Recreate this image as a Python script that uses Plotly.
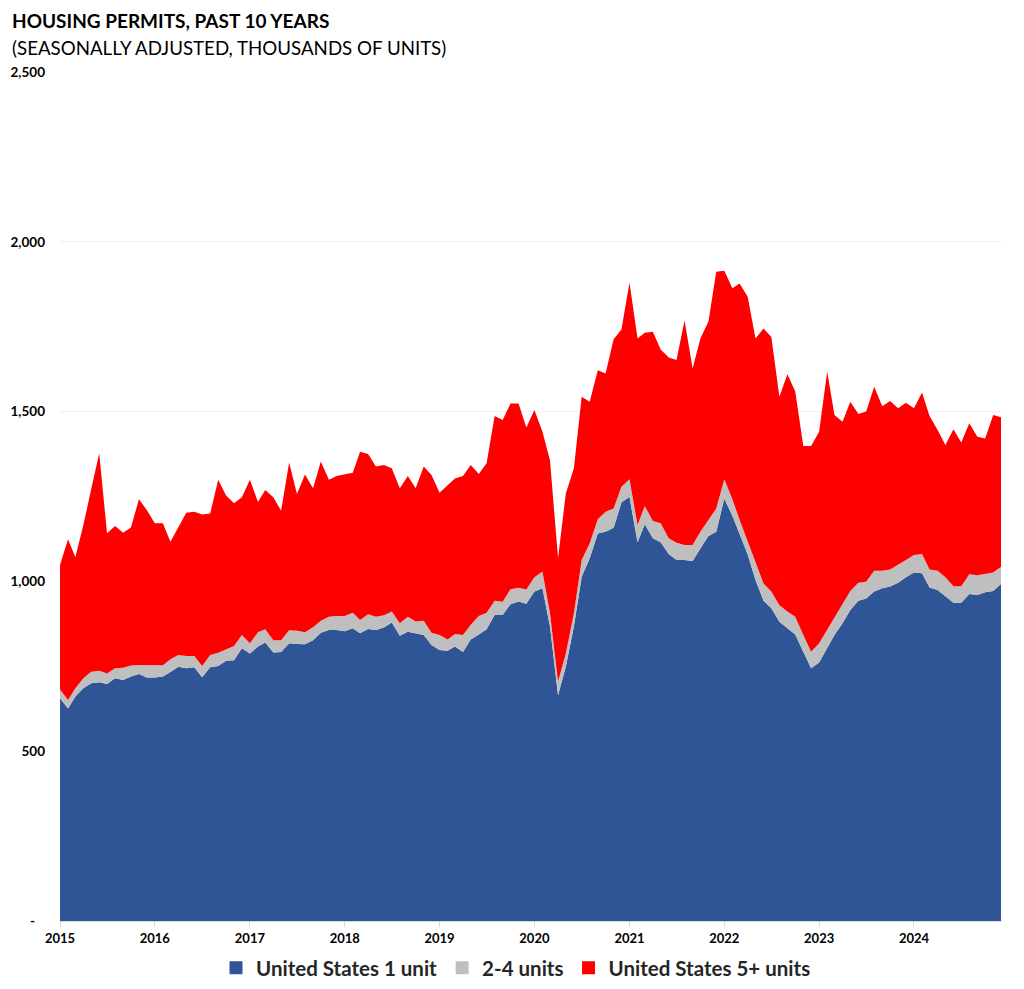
import plotly.graph_objects as go
import pandas as pd

# monthly permits, seasonally adjusted, thousands of units (Jan 2015 - Dec 2024)
months = pd.date_range("2015-01-01", "2024-12-01", freq="MS")

one_unit = [
    656, 626, 661, 685, 700, 703, 698, 715, 710, 720, 727, 717,
    717, 720, 733, 749, 744, 747, 718, 747, 751, 766, 768, 803,
    788, 808, 820, 791, 792, 818, 816, 815, 827, 849, 857, 857,
    853, 862, 847, 860, 857, 864, 879, 840, 852, 847, 842, 813,
    798, 796, 808, 792, 829, 844, 859, 901, 901, 933, 941, 934,
    970, 980, 867, 665, 749, 867, 1014, 1068, 1141, 1146, 1158, 1232,
    1249, 1115, 1168, 1127, 1115, 1081, 1063, 1063, 1060, 1097, 1134, 1146,
    1244, 1193, 1137, 1079, 1004, 943, 921, 881, 862, 844, 793, 744,
    761, 803, 842, 877, 916, 943, 950, 970, 980, 985, 996, 1012,
    1026, 1024, 982, 975, 955, 937, 937, 963, 960, 968, 972, 992,
]
two_to_four = [
    26, 25, 24, 30, 34, 34, 31, 29, 36, 32, 27, 36,
    35, 33, 38, 34, 36, 33, 33, 36, 39, 34, 42, 39,
    30, 42, 39, 36, 35, 38, 39, 35, 38, 35, 39, 41,
    45, 46, 39, 43, 39, 36, 32, 37, 44, 35, 42, 36,
    44, 33, 37, 50, 43, 54, 49, 42, 39, 44, 40, 42,
    42, 49, 39, 40, 39, 39, 49, 44, 42, 59, 57, 47,
    52, 51, 54, 51, 56, 46, 51, 44, 47, 49, 49, 69,
    57, 49, 44, 38, 49, 51, 49, 49, 49, 52, 49, 49,
    57, 54, 54, 58, 56, 53, 49, 61, 51, 50, 52, 51,
    52, 57, 53, 56, 57, 49, 49, 58, 58, 54, 54, 51,
]
five_plus = [
    366, 473, 386, 451, 537, 640, 413, 419, 397, 407, 488, 457,
    419, 418, 346, 378, 422, 425, 446, 417, 509, 453, 420, 406,
    481, 384, 410, 421, 381, 494, 402, 465, 409, 469, 403, 412,
    417, 412, 496, 472, 442, 443, 422, 397, 414, 392, 454, 464,
    419, 455, 458, 468, 471, 418, 440, 544, 535, 547, 543, 477,
    493, 412, 451, 363, 471, 427, 481, 417, 439, 407, 498, 463,
    579, 549, 510, 557, 512, 532, 538, 661, 520, 569, 582, 697,
    614, 621, 696, 721, 662, 751, 750, 614, 699, 663, 557, 606,
    623, 761, 594, 535, 557, 497, 501, 542, 485, 496, 462, 463,
    432, 475, 452, 415, 390, 462, 423, 445, 408, 399, 464, 440,
]

series_names = ["United States 1 unit", "2-4 units", "United States 5+ units"]
series_colors = ["#2F5597", "#BFBFBF", "#FF0000"]

year_ticks = pd.date_range("2015-01-01", "2024-01-01", freq="YS")
year_labels = [str(d.year) for d in year_ticks]
y_ticks = [0, 500, 1000, 1500, 2000, 2500]
y_labels = ["-\u00a0\u00a0\u00a0", "500", "1,000", "1,500", "2,000", "2,500"]

FONT = "Lato"

fig = go.Figure()
for name, vals, col in zip(series_names, [one_unit, two_to_four, five_plus], series_colors):
    fig.add_trace(
        go.Scatter(
            x=months,
            y=vals,
            name=name,
            stackgroup="one",
            mode="lines",
            line=dict(width=0, color=col),
            fillcolor=col,
            showlegend=False,
            hoverinfo="x+y+name",
        )
    )

# legend entries drawn as square swatches, like the original
for name, col in zip(series_names, series_colors):
    fig.add_trace(
        go.Scatter(
            x=[None],
            y=[None],
            mode="markers",
            name="<b>" + name + "</b>",
            marker=dict(symbol="square", size=13, color=col),
            hoverinfo="skip",
        )
    )

# page body adds an 8px offset, so the figure is a bit smaller than the window
fig.update_layout(
    width=1016,
    height=981,
    plot_bgcolor="white",
    paper_bgcolor="white",
    font=dict(family=FONT, color="black"),
    margin=dict(l=52, r=23, t=64, b=68, autoexpand=False),
    showlegend=True,
    legend=dict(
        orientation="h",
        x=0.5,
        xanchor="center",
        xref="container",
        y=0.0215,
        yref="container",
        yanchor="middle",
        font=dict(size=20.5, family=FONT, color="#262626"),
        itemwidth=30,
        tracegroupgap=0,
        traceorder="normal",
    ),
    xaxis=dict(
        range=[months[0], months[-1]],
        tickvals=year_ticks,
        ticktext=["<b>" + t + "</b>" for t in year_labels],
        tickfont=dict(size=13, family=FONT),
        ticks="outside",
        ticklen=5,
        tickcolor="#d9d9d9",
        showline=True,
        linecolor="#d9d9d9",
        showgrid=False,
        zeroline=False,
    ),
    yaxis=dict(
        range=[0, 2500],
        tickvals=y_ticks,
        ticktext=["<b>" + t + "</b>" for t in y_labels],
        tickfont=dict(size=13.5, family=FONT),
        showgrid=True,
        gridcolor="#f0f0f0",
        gridwidth=1,
        zeroline=False,
        showline=False,
        ticks="",
        ticklabelstandoff=14,
    ),
)

fig.add_annotation(
    text="<b>HOUSING PERMITS, PAST 10 YEARS</b>",
    xref="paper", yref="paper",
    x=-0.0531, y=1.0612,
    xanchor="left", yanchor="middle",
    showarrow=False,
    font=dict(size=19, family=FONT, color="black"),
)
fig.add_annotation(
    text="(SEASONALLY ADJUSTED, THOUSANDS OF UNITS)",
    xref="paper", yref="paper",
    x=-0.0531, y=1.0283,
    xanchor="left", yanchor="middle",
    showarrow=False,
    font=dict(size=18.7, family=FONT, color="black"),
)

fig.write_html("out.html")
